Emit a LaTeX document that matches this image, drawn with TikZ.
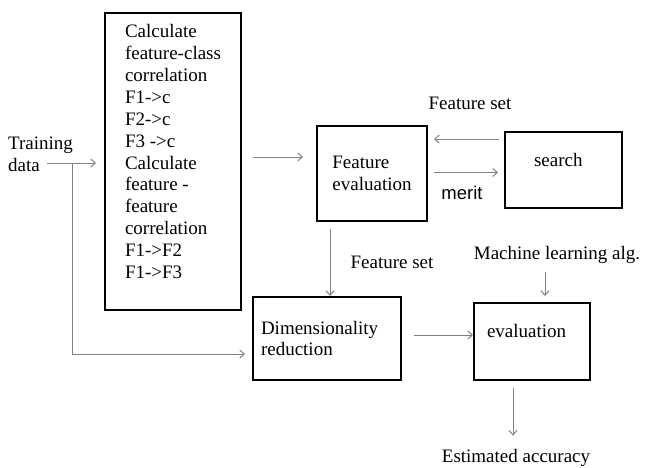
\documentclass[tikz,border=0pt]{standalone}
\usepackage{fontspec}
\setmainfont{Liberation Serif}
\newfontfamily\meritfont{Liberation Sans}
\usetikzlibrary{arrows.meta, positioning, calc}

\begin{document}
\begin{tikzpicture}[
		x=1pt, y=-1pt,
		node distance=10pt and 16pt,
		>={Straight Barb[length=4.5pt, width=8pt]},
		font=\fontsize{19}{21.9}\selectfont,
		block/.style    ={draw, line width=2pt, inner sep=0pt, align=left},
		thinarrow/.style={->, line width=1pt, draw=black!50},
		lab/.style      ={inner sep=0pt, align=left}
		]

		\useasboundingbox (0,0) rectangle (648,467);

		% --- Input ---
		\node[lab, anchor=west] (train) at (8,154.5) {Training\\data};
		\coordinate (trainout) at (47,163);
		\coordinate (split)    at (72,163);

		% --- Correlation box ---
		\node[block, minimum width=136pt, minimum height=297pt, text depth=20pt] (calc) at (173,161.5)
			{Calculate\\feature-class\\correlation\\F1->c\\F2->c\\F3 ->c\\Calculate\\feature -\\feature\\correlation\\F1->F2\\F1->F3};

		\draw[thinarrow, shorten >=8pt] (trainout) -- (trainout -| calc.west);

		% --- Column 2: Feature evaluation & search ---
		\node[block, minimum width=110pt, minimum height=95pt] (feval) at (372,173.5) {Feature\\evaluation};
		\node[block, minimum width=117pt, minimum height=76pt, text width=59pt, text depth=21pt, right=76pt of feval, yshift=3.5pt] (search) {search};

		\node[lab] (fsettop) at (470,103) {Feature set};
		\node[lab, font=\meritfont\fontsize{18.5}{20}\selectfont] (merit) at (462,193) {merit};

		\draw[thinarrow, shorten <=11pt, shorten >=13pt] ([yshift=16.5pt]feval.west -| calc.east) -- ([yshift=16.5pt]feval.west);
		\draw[thinarrow, shorten <=5pt, shorten >=6pt] ([yshift=31pt]search.west) -- ([yshift=31pt]search.west -| feval.east);
		\draw[thinarrow, shorten <=6pt, shorten >=6pt] ([yshift=1pt]feval.east) -- ([yshift=1pt]feval.east -| search.west);

		% --- Column 2: Reduction & evaluation ---
		\node[block, minimum width=148pt, minimum height=83pt, text width=132pt] (dimred) at (327,338.5) {Dimensionality\\reduction};
		\node[block, minimum width=116pt, minimum height=77pt, text width=90pt, text depth=22pt, right=71pt of dimred, yshift=-3pt] (evalbox) {evaluation};

		\node[lab] (fsetmid) at (392,262) {Feature set};
		\node[lab] (mla)     at (557,255) {Machine learning alg.};
		\node[lab] (estacc)  at (516,458) {Estimated accuracy};

		\draw[thinarrow, shorten <=7pt] ([xshift=-42pt]feval.south) -- ([xshift=-42pt]feval.south |- dimred.north);
		\draw[thinarrow, shorten >=7pt] (split) |- ([yshift=-15.5pt]dimred.west);
		\draw[thinarrow, shorten <=12pt] ([yshift=3.5pt]dimred.east) -- ([yshift=3.5pt]dimred.east -| evalbox.west);
		\draw[thinarrow, shorten <=8.5pt, shorten >=6pt] ([xshift=13pt]evalbox.north |- mla.south) -- ([xshift=13pt]evalbox.north);
		\draw[thinarrow, shorten <=7pt, shorten >=13.5pt] ([xshift=-19pt]evalbox.south) -- ([xshift=-19pt]evalbox.south |- estacc.north);

	\end{tikzpicture}
\end{document}
